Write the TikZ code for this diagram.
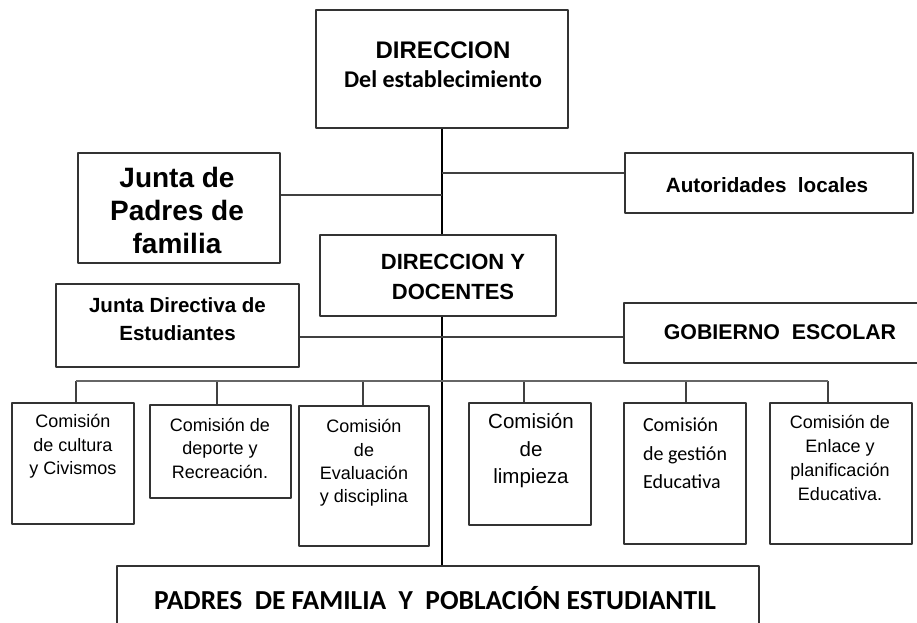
\documentclass[tikz,border=0pt]{standalone}
\usepackage{fontspec}
\setmainfont{Liberation Sans}
\newfontfamily\calib{Carlito}
\usetikzlibrary{fit}
\begin{document}
\begin{tikzpicture}[x=0.75pt,y=-0.75pt,line join=round,
  box/.style={draw=black!80,line width=1.1pt,inner sep=0pt},
  lbl/.style={align=center,inner sep=0pt}]
\useasboundingbox (0,0) rectangle (917,623);
\node[box,fit={(316,10)(568,128)}](dir){};
\node[box,fit={(78,153)(280,263)}](jpad){};
\node[box,fit={(625,153)(913,213)}](aut){};
\node[box,fit={(320,235)(556,316)}](dd){};
\node[box,fit={(56,284)(299,367)}](jdir){};
\node[box,fit={(624,303)(930,363)}](gob){};
\node[box,fit={(12,403)(134,524)}](cult){};
\node[box,fit={(150,405)(291,498)}](dep){};
\node[box,fit={(299,406)(429,546)}](eval){};
\node[box,fit={(469,403)(591,525)}](limp){};
\node[box,fit={(624,403)(746,544)}](gest){};
\node[box,fit={(770,403)(912,544)}](enl){};
\node[box,fit={(117,566)(759,640)}](pob){};
\node[lbl,font=\fontsize{18}{21.75}\selectfont\bfseries] at (443,65) {DIRECCION\\{\calib Del establecimiento}};
\node[lbl,font=\fontsize{21}{24.4}\selectfont\bfseries] at (177,210.5) {Junta de\\Padres de\\familia};
\node[lbl,font=\fontsize{15.5}{18}\selectfont\bfseries] at (767,185) {Autoridades\ \ locales};
\node[lbl,font=\fontsize{16.5}{22.5}\selectfont\bfseries] at (453,277) {DIRECCION Y\\DOCENTES};
\node[lbl,font=\fontsize{15.4}{21}\selectfont\bfseries] at (177.5,319) {Junta Directiva de\\Estudiantes};
\node[lbl,font=\fontsize{16}{19}\selectfont\bfseries] at (780,332) {GOBIERNO\ \ ESCOLAR};
\node[lbl,font=\fontsize{13.5}{17.6}\selectfont] at (73,446.5) {Comisión\\de cultura\\y Civismos};
\node[lbl,font=\fontsize{13.5}{17.6}\selectfont] at (220,448) {Comisión de\\deporte y\\Recreación.};
\node[lbl,font=\fontsize{13.5}{17.6}\selectfont] at (364,463) {Comisión\\de\\Evaluación\\y disciplina};
\node[lbl,font=\fontsize{15.4}{20.6}\selectfont] at (531,451) {Comisión\\de\\limpieza};
\node[lbl,align=left,font=\calib\fontsize{15}{21.4}\selectfont] at (685,453.5) {Comisión\\de gestión\\Educativa};
\node[lbl,font=\fontsize{13.5}{18}\selectfont] at (840,458) {Comisión de\\Enlace y\\planificación\\Educativa.};
\node[lbl,font=\calib\fontsize{20.6}{24}\selectfont\bfseries] at (435,598) {PADRES\ \ DE FAMILIA\ \ Y\ \ POBLACIÓN ESTUDIANTIL};
\coordinate (kp) at (442,195);
\coordinate (ka) at (442,173);
\coordinate (kg) at (442,337);
\draw[line width=0.8pt] (dir.south) -- (dir.south |- dd.north) (dir.south |- dd.south) -- (dir.south |- pob.north);
\begin{scope}[black!75,line width=1pt]
\draw (jpad.east |- kp) -- (kp);
\draw (ka) -- (ka -| aut.west);
\draw (jdir.east |- kg) -- (kg -| gob.west);
\foreach \n/\x in {cult/76,dep/217,eval/363,limp/524,gest/686,enl/828}{
  \coordinate (b\n) at (\x,381);
  \draw (b\n) -- (b\n |- \n.north);
}
\draw[black!60] (bcult) -- (benl);
\end{scope}
\end{tikzpicture}
\end{document}
